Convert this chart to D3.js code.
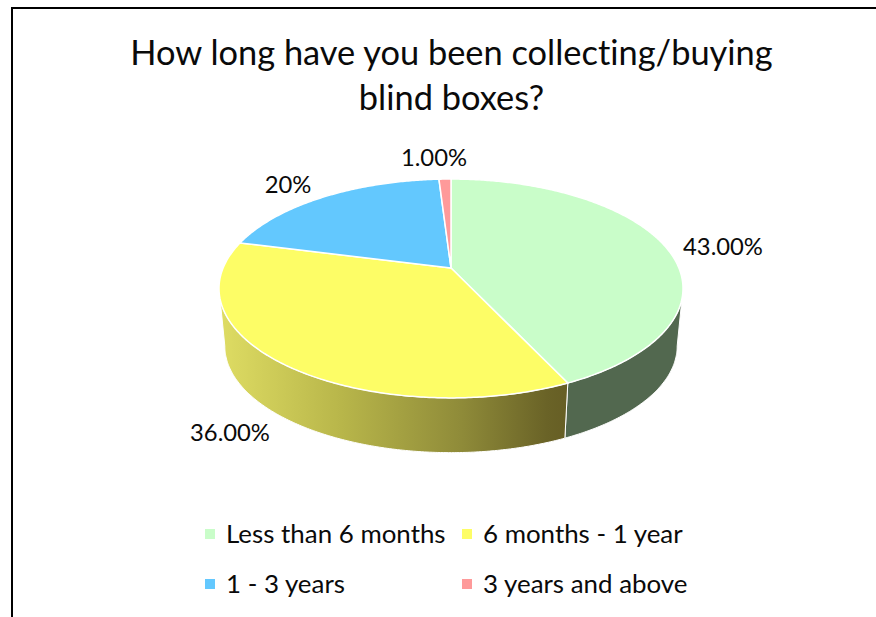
<!DOCTYPE html>
<html>
<head>
<meta charset="utf-8">
<style>
  html, body { margin: 0; padding: 0; background: #fff; overflow: hidden; }
  svg { display: block; }
  text { font-family: Lato, "Open Sans", sans-serif; fill: #0a0a0a; font-variant-ligatures: none; }
</style>
<script src="https://cdn.jsdelivr.net/npm/d3@7/dist/d3.min.js"></script>
</head>
<body>
<script>
const titleLines = ["How long have you been collecting/buying", "blind boxes?"];
const categories = ["Less than 6 months", "6 months - 1 year", "1 - 3 years", "3 years and above"];
const shares = [43, 36, 20, 1];
const dataLabels = ["43.00%", "36.00%", "20%", "1.00%"];
const topColors = ["#c9fdc9", "#fdfd66", "#63c8fe", "#fe9a9a"];
const sideColors = ["#52684f", "url(#frontWall)", "#2f6480", "#805050"];
const labelSpots = [[723, 247], [230, 433], [288, 185], [434, 158]];
const legendSpots = [[211, 534], [468, 534], [211, 584], [468, 584]];

const width = 876, height = 617;
const svg = d3.select("body").append("svg").attr("width", width).attr("height", height);

// Chart frame: the page crops it on the right and at the bottom.
svg.append("path")
  .attr("d", `M12,${height}V8H${width}`)
  .attr("fill", "none").attr("stroke", "#000").attr("stroke-width", 2);

const grad = svg.append("defs").append("linearGradient")
  .attr("id", "frontWall").attr("gradientUnits", "userSpaceOnUse")
  .attr("x1", 221).attr("x2", 564).attr("y1", 0).attr("y2", 0);
grad.selectAll("stop")
  .data([[0, "#dedc63"], [0.35, "#b8b64a"], [0.7, "#8f8b39"], [0.95, "#6a6327"], [1, "#675f25"]])
  .join("stop").attr("offset", d => d[0]).attr("stop-color", d => d[1]);

// Perspective projection of the tilted disc: t is the clockwise angle from 12 o'clock.
const apex = { x: 451, y: 268 };
const spreadX = 227.9, spreadY = 105.6, tilt = 0.187;
const wallDrop = 58, wallShrink = 0.975;
function project(t, lower) {
  const u = Math.sin(t), v = -Math.cos(t), w = 1 - tilt * v;
  const s = lower ? wallShrink : 1;
  return [apex.x + s * spreadX * u / w, apex.y + (lower ? wallDrop : 0) + s * spreadY * v / w];
}

const slices = d3.pie().sort(null).value(d => d)(shares);
const rimLine = d3.line().curve(d3.curveLinear);

function sampleAngles(a0, a1) {
  const n = Math.max(2, Math.ceil((a1 - a0) / 0.01));
  return d3.range(n + 1).map(i => a0 + (a1 - a0) * i / n);
}

// Front wall, limited to the part of the rim that faces the viewer.
const visibleFrom = Math.PI - Math.acos(tilt);
const visibleTo = 2 * Math.PI - visibleFrom;
const walls = slices
  .map((s, i) => ({ a0: Math.max(s.startAngle, visibleFrom), a1: Math.min(s.endAngle, visibleTo), i }))
  .filter(d => d.a1 > d.a0);

svg.append("g").selectAll("path").data(walls).join("path")
  .attr("d", d => {
    const angles = sampleAngles(d.a0, d.a1);
    const pts = angles.map(t => project(t, false)).concat(angles.slice().reverse().map(t => project(t, true)));
    return rimLine(pts) + "Z";
  })
  .attr("fill", d => sideColors[d.i])
  .attr("stroke", "#fff").attr("stroke-width", 1).attr("stroke-linejoin", "round");

// Top faces of the slices.
svg.append("g").selectAll("path").data(slices).join("path")
  .attr("d", s => rimLine([[apex.x, apex.y]].concat(sampleAngles(s.startAngle, s.endAngle).map(t => project(t, false)))) + "Z")
  .attr("fill", (s, i) => topColors[i])
  .attr("stroke", "#fff").attr("stroke-width", 1.5).attr("stroke-linejoin", "round");

// Title
svg.append("g").selectAll("text").data(titleLines).join("text")
  .attr("x", 451.5).attr("y", (d, i) => 65 + i * 45)
  .attr("text-anchor", "middle").attr("font-size", 34.4)
  .text(d => d);

// Data labels
svg.append("g").selectAll("text").data(dataLabels).join("text")
  .attr("x", (d, i) => labelSpots[i][0]).attr("y", (d, i) => labelSpots[i][1])
  .attr("dy", "0.35em").attr("text-anchor", "middle").attr("font-size", 23.8)
  .text(d => d);

// Legend
const legend = svg.append("g").selectAll("g").data(categories).join("g")
  .attr("transform", (d, i) => `translate(${legendSpots[i][0]},${legendSpots[i][1]})`);
legend.append("rect").attr("x", -6).attr("y", -5).attr("width", 10).attr("height", 10)
  .attr("fill", (d, i) => topColors[i]);
legend.append("text").attr("x", 15).attr("dy", "0.35em").attr("font-size", 25.9).text(d => d);
</script>
</body>
</html>
